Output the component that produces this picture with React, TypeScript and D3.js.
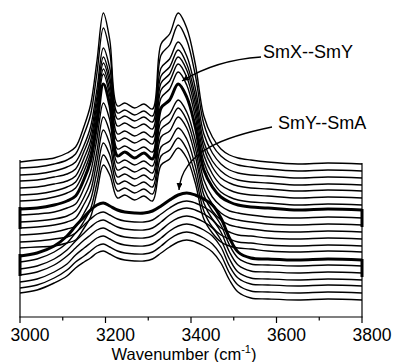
import * as d3 from "d3";

// wavenumber grid (cm-1) the spectra are sampled on
const wavenumbers = [
  3000, 3040, 3080, 3110, 3130, 3150, 3165, 3180, 3195, 3210, 3228, 3245, 3268, 3290, 3310,
  3330, 3350, 3370, 3390, 3410, 3430, 3450, 3470, 3490, 3510, 3540, 3580, 3650, 3720, 3800,
];

// stacked spectra, top (low T) to bottom (high T), offsets already included (a.u.)
const spectra: number[][] = [
  [155, 157, 159, 164, 170, 191, 212, 256, 304, 277, 211, 214, 209, 213, 208, 273, 283, 304, 289, 253, 201, 180, 168, 162, 159, 157, 155, 153, 154, 153],
  [149, 150, 153, 157, 163, 183, 202, 244, 289, 265, 204, 207, 202, 206, 201, 262, 272, 292, 277, 242, 193, 172, 161, 155, 152, 150, 148, 146, 147, 146],
  [142, 143, 146, 150, 155, 172, 190, 228, 269, 249, 198, 201, 196, 200, 195, 249, 258, 275, 261, 229, 183, 164, 153, 147, 144, 142, 141, 139, 140, 139],
  [136, 137, 140, 143, 148, 166, 183, 220, 260, 240, 191, 194, 189, 193, 188, 241, 250, 267, 253, 221, 175, 156, 146, 140, 137, 135, 134, 132, 133, 132],
  [129, 130, 133, 136, 141, 159, 176, 214, 254, 234, 183, 186, 181, 185, 180, 234, 243, 260, 247, 214, 169, 150, 139, 134, 131, 129, 128, 126, 127, 126],
  [122, 123, 126, 130, 135, 152, 170, 208, 248, 227, 176, 179, 174, 178, 173, 227, 236, 253, 240, 207, 162, 143, 132, 127, 124, 122, 121, 119, 120, 119],
  [116, 117, 120, 124, 129, 146, 164, 202, 243, 221, 168, 171, 166, 170, 165, 219, 228, 245, 232, 200, 155, 136, 125, 120, 117, 115, 114, 112, 113, 112],
  // SmX--SmY
  [108, 109, 112, 116, 121, 138, 156, 193, 233, 212, 161, 165, 159, 164, 158, 209, 217, 233, 220, 190, 147, 130, 120, 115, 112, 110, 109, 107, 108, 107],
  [102, 103, 105, 109, 113, 129, 145, 178, 214, 197, 154, 157, 152, 156, 151, 196, 203, 217, 205, 177, 137, 120, 111, 106, 104, 102, 100, 99, 100, 99],
  [95, 96, 98, 101, 106, 120, 135, 166, 200, 185, 147, 150, 145, 149, 144, 188, 195, 209, 197, 169, 129, 113, 104, 99, 97, 95, 93, 92, 93, 92],
  [89, 90, 92, 95, 99, 113, 126, 156, 187, 173, 140, 143, 138, 142, 137, 180, 186, 200, 189, 161, 122, 106, 97, 92, 90, 88, 86, 85, 86, 85],
  [82, 83, 85, 88, 91, 104, 117, 145, 174, 162, 133, 136, 131, 135, 130, 170, 176, 189, 178, 151, 114, 98, 89, 85, 82, 81, 79, 78, 79, 78],
  [75, 76, 78, 80, 84, 96, 108, 134, 162, 151, 126, 129, 124, 128, 123, 161, 167, 179, 168, 142, 106, 90, 82, 78, 75, 74, 72, 71, 72, 71],
  [69, 70, 71, 74, 77, 89, 100, 125, 152, 142, 119, 122, 117, 121, 116, 152, 158, 169, 159, 134, 98, 84, 75, 71, 69, 68, 66, 65, 66, 65],
  // SmY--SmA
  [61, 64, 71, 81, 91, 100, 107, 112, 114, 111, 107, 105, 104, 104, 106, 111, 117, 122, 124, 122, 118, 112, 99, 79, 65, 59, 58, 57, 58, 57],
  [55, 58, 65, 74, 84, 92, 98, 103, 105, 102, 98, 96, 95, 95, 97, 103, 109, 114, 116, 114, 110, 104, 92, 72, 59, 53, 52, 51, 52, 51],
  [48, 51, 58, 67, 76, 84, 90, 95, 97, 94, 90, 88, 87, 87, 89, 95, 102, 107, 109, 107, 103, 97, 85, 65, 52, 46, 45, 44, 45, 44],
  [42, 45, 52, 61, 69, 77, 82, 87, 89, 86, 82, 80, 79, 79, 81, 87, 94, 99, 101, 99, 95, 89, 77, 58, 45, 39, 38, 37, 38, 37],
  [35, 38, 45, 53, 62, 69, 74, 79, 81, 78, 74, 72, 71, 71, 73, 79, 86, 91, 93, 91, 87, 81, 70, 51, 39, 33, 32, 31, 32, 31],
  [29, 32, 39, 47, 55, 61, 66, 71, 73, 70, 66, 64, 63, 63, 65, 71, 78, 83, 85, 83, 79, 73, 62, 44, 32, 26, 25, 24, 25, 24],
  [24, 27, 34, 41, 49, 55, 59, 64, 66, 63, 59, 57, 56, 56, 58, 64, 70, 75, 77, 75, 71, 65, 54, 37, 25, 19, 18, 17, 18, 17],
];

const thickCurves = [7, 14];
const majorTicks = [3000, 3200, 3400, 3600, 3800];
const minorTicks = [3100, 3300, 3500, 3700];
const transitionLabels = ["SmX--SmY", "SmY--SmA"];

const width = 394;
const height = 362;
const font = "'Liberation Sans', Arial, Helvetica, sans-serif";

const x = d3.scaleLinear().domain([3000, 3800]).range([20, 362]);
const y = d3.scaleLinear().domain([0, 305]).range([317, 12]);

const line = d3
  .line<number>()
  .x((_, i) => x(wavenumbers[i]))
  .y((d) => y(d))
  .curve(d3.curveCatmullRom.alpha(0.5));

export default function App() {
  const last = wavenumbers.length - 1;
  const top = spectra[0];

  return (
    <svg
      width={width}
      height={height}
      style={{ position: "absolute", left: 0, top: 0, background: "#fff" }}
      fontFamily={font}
    >
      <defs>
        <marker
          id="arrowhead"
          markerUnits="userSpaceOnUse"
          markerWidth={8}
          markerHeight={8}
          refX={7}
          refY={3}
          orient="auto"
        >
          <path d="M0,0 L7,3 L0,6 z" fill="#000" />
        </marker>
      </defs>

      {/* thin spectra first, thick transition ones on top */}
      {spectra.map((s, i) =>
        thickCurves.includes(i) ? null : (
          <path key={i} d={line(s) || ""} fill="none" stroke="#000" strokeWidth={1.4} />
        )
      )}
      {thickCurves.map((i) => {
        const s = spectra[i];
        return (
          <g key={i}>
            <path d={line(s) || ""} fill="none" stroke="#000" strokeWidth={3} />
            <line x1={x(3000)} x2={x(3000)} y1={y(s[0] + 2)} y2={y(s[0] - 20)} stroke="#000" strokeWidth={3} />
            <line x1={x(3800)} x2={x(3800)} y1={y(s[last] + 1)} y2={y(s[last] - 17)} stroke="#000" strokeWidth={3} />
          </g>
        );
      })}

      {/* frame: side lines from the top spectrum down, bottom axis */}
      <line x1={x(3000)} x2={x(3000)} y1={y(top[0] + 2)} y2={y(0)} stroke="#000" strokeWidth={1.2} />
      <line x1={x(3800)} x2={x(3800)} y1={y(top[last] + 1)} y2={y(0)} stroke="#000" strokeWidth={1.2} />
      <line x1={x(3000) - 0.6} x2={x(3800) + 0.6} y1={y(0)} y2={y(0)} stroke="#000" strokeWidth={1.2} />

      {majorTicks.map((t) => (
        <g key={t}>
          <line x1={x(t)} x2={x(t)} y1={y(0)} y2={y(0) + 6} stroke="#000" strokeWidth={1.2} />
          <text x={x(t) + 10} y={341} textAnchor="middle" fontSize={17.5}>
            {t}
          </text>
        </g>
      ))}
      {minorTicks.map((t) => (
        <line key={t} x1={x(t)} x2={x(t)} y1={y(0)} y2={y(0) + 3.5} stroke="#000" strokeWidth={1.2} />
      ))}

      <text x={184} y={359.5} textAnchor="middle" fontSize={16.5}>
        Wavenumber (cm
        <tspan dy={-7} fontSize={11}>
          -1
        </tspan>
        <tspan dy={7}>)</tspan>
      </text>

      {/* transition annotations */}
      <text x={263} y={58} fontSize={18}>
        {transitionLabels[0]}
      </text>
      <path d="M261,57 Q216,60 182,81" fill="none" stroke="#000" strokeWidth={1.3} markerEnd="url(#arrowhead)" />
      <text x={278} y={129} fontSize={18}>
        {transitionLabels[1]}
      </text>
      <path
        d="M272,127 C228,136 182,150 179,190"
        fill="none"
        stroke="#000"
        strokeWidth={1.3}
        markerEnd="url(#arrowhead)"
      />
    </svg>
  );
}
